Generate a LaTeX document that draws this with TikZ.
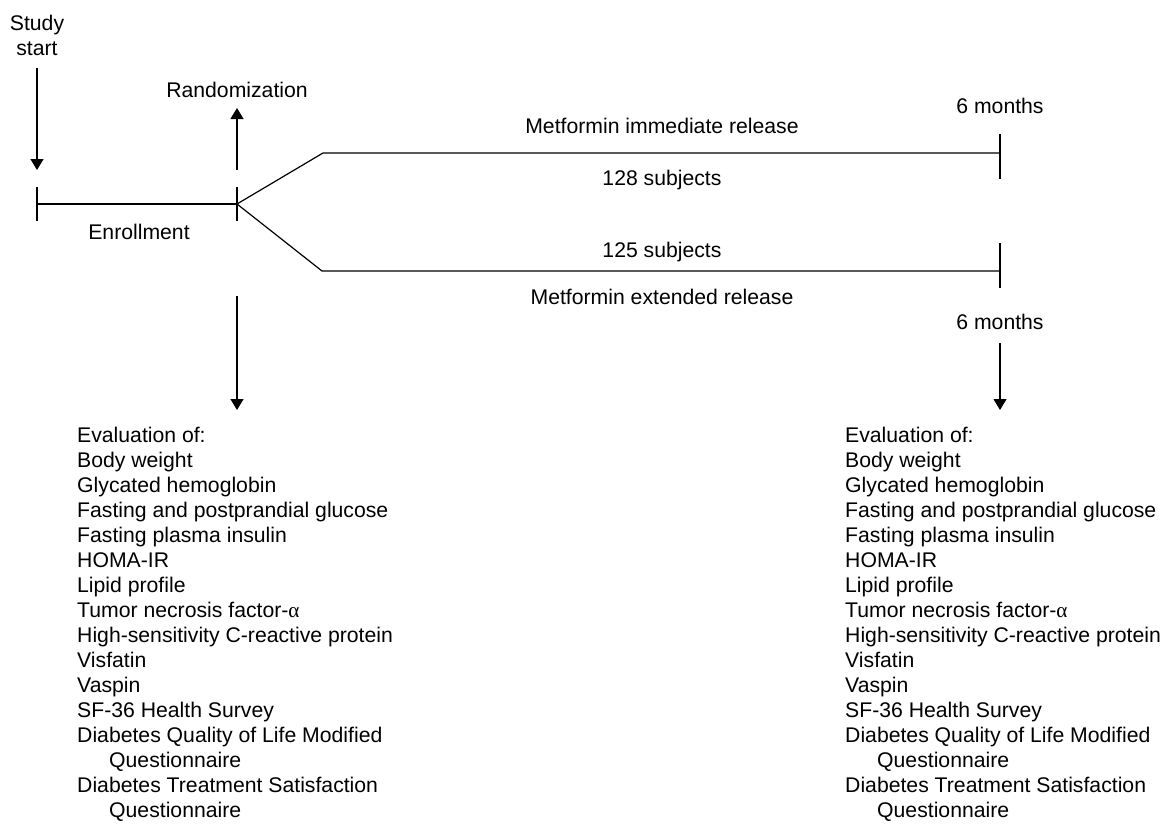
\documentclass[tikz,border=0pt]{standalone}
\usepackage{fontspec}
\setmainfont{Liberation Sans}
\newfontfamily\greekfont{Liberation Serif}
\usetikzlibrary{arrows.meta}
\newcommand{\EvalList}{\vtop{\baselineskip=25pt\lineskiplimit=0pt
\hbox{Evaluation of:}
\hbox{Body weight}
\hbox{Glycated hemoglobin}
\hbox{Fasting and postprandial glucose}
\hbox{Fasting plasma insulin}
\hbox{HOMA-IR}
\hbox{Lipid profile}
\hbox{Tumor necrosis factor-{\greekfont α}}
\hbox{High-sensitivity C-reactive protein}
\hbox{Visfatin}
\hbox{Vaspin}
\hbox{SF-36 Health Survey}
\hbox{Diabetes Quality of Life Modified}
\hbox{\hspace{32pt}Questionnaire}
\hbox{Diabetes Treatment Satisfaction}
\hbox{\hspace{32pt}Questionnaire}}}
\begin{document}
\begin{tikzpicture}[x=1pt,y=-1pt,
  txt/.style={inner sep=0pt,font=\fontsize{21.2}{25}\selectfont},
  ln/.style={line width=1.2pt},
  arr/.style={line width=1.2pt,-{Triangle[width=13pt,length=11pt]}}]
\useasboundingbox (0,0) rectangle (1164,827);
% texts
\node[txt,anchor=base] (study) at (37,30) {\vtop{\baselineskip=25pt\lineskiplimit=0pt\halign{\hfil#\hfil\cr Study\cr start\cr}}};
\node[txt,anchor=base] (rand) at (237,97) {Randomization};
\node[txt,anchor=base] (enroll) at (139,239) {Enrollment};
\node[txt,anchor=base] (sixtop) at (1000,113) {6 months};
\node[txt,anchor=base] (mir) at (662,133) {Metformin immediate release};
\node[txt,anchor=base] (n128) at (662,185) {128 subjects};
\node[txt,anchor=base] (n125) at (662,257) {125 subjects};
\node[txt,anchor=base] (mer) at (662,304) {Metformin extended release};
\node[txt,anchor=base] (sixbot) at (1000,329) {6 months};
\node[txt,anchor=base west] (evalL) at (77,442) {\EvalList};
\node[txt,anchor=base west] (evalR) at (845,442) {\EvalList};
% coordinates
\coordinate (ssA) at (37,68);
\coordinate (ssB) at (37,170);
\coordinate (e0) at (37,204);
\coordinate (br) at (237,204);
\coordinate (randA) at (237,170);
\coordinate (randB) at (237,108);
\coordinate (u1) at (323,153);
\coordinate (u2) at (1000,153);
\coordinate (l1) at (322,271);
\coordinate (l2) at (1000,271);
\coordinate (dlA) at (237,296);
\coordinate (dlB) at (237,410);
\coordinate (drA) at (1000,343);
\coordinate (drB) at (1000,410);
% lines
\draw[arr] (ssA) -- (ssB);
\draw[arr] (randA) -- (randB);
\draw[ln] (e0) -- (br);
\draw[ln] ([yshift=-17pt]e0) -- ([yshift=17pt]e0);
\draw[ln] ([yshift=-17pt]br) -- ([yshift=17pt]br);
\draw[ln] (br) -- (u1) -- (u2);
\draw[ln] (br) -- (l1) -- (l2);
\draw[ln] ([yshift=-26pt]u2) -- ([yshift=19pt]u2);
\draw[ln] ([yshift=-17pt]l2) -- ([yshift=28pt]l2);
\draw[arr] (dlA) -- (dlB);
\draw[arr] (drA) -- (drB);
\end{tikzpicture}
\end{document}
